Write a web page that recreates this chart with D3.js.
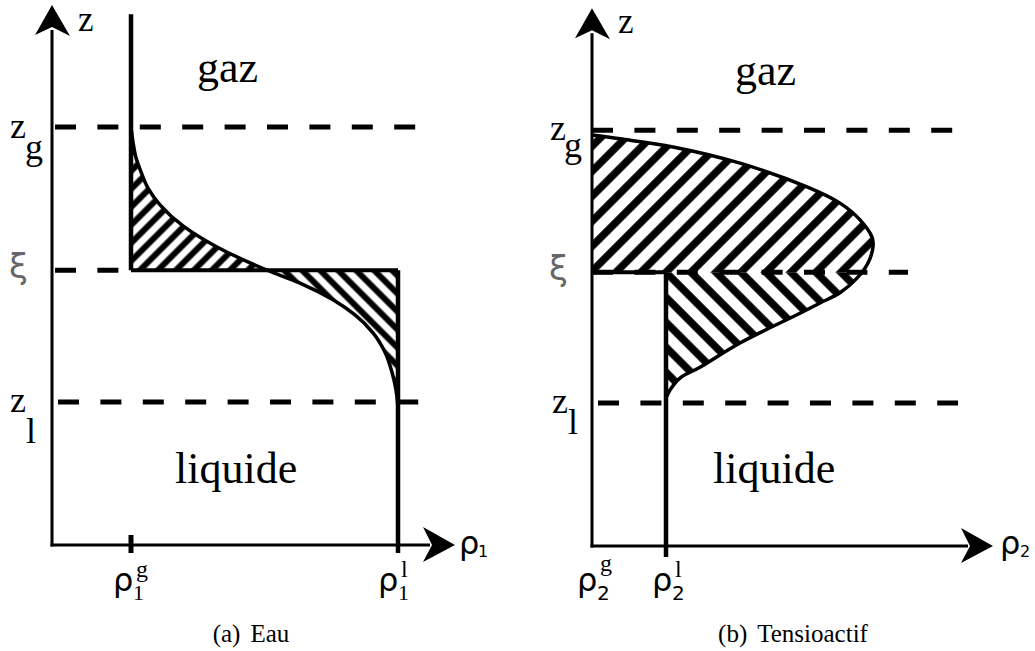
<!DOCTYPE html>
<html><head><meta charset="utf-8">
<script src="https://cdn.jsdelivr.net/npm/d3@7"></script>
<style>body{margin:0;background:#fff} svg{display:block}</style>
</head><body><svg id="c" width="1035" height="651"></svg>
<script>
// ---------------- data ----------------
const levelNames = ["z", "ξ", "z"];          // z_g, ξ, z_l
const levelSubs  = ["g", "", "l"];
const levelsA = [77.4, 50.9, 26.5];            // z_g, ξ, z_l  (panel a)
const levelsB = [77.0, 50.7, 26.5];            // z_g, ξ, z_l  (panel b)
const rhoGasA = 19.75, rhoLiqA = 86.5;
const rhoGasB = 0,     rhoLiqB = 18.5;
const profileA_rho = [19.75, 20.25, 21, 22.25, 24, 27, 32.75, 41.25, 53.75, 62, 70.25, 75.75, 80.25, 83.25, 85, 86, 86.5];
const profileA_z   = [77.4, 74.6, 71.7, 69.1, 66.1, 63.0, 59.1, 55.2, 50.9, 48.5, 45.4, 42.6, 39.3, 35.7, 32.0, 28.7, 25.4];
const profileB_rho = [0, 7, 20.25, 37, 53.75, 62, 67, 70, 70.25, 69, 66.25, 62, 57, 52, 37, 27, 22, 19.5, 18.5];
const profileB_z   = [76.1, 75.4, 73.9, 70.9, 66.5, 63.5, 60.4, 57.2, 55.4, 52.4, 49.6, 46.9, 45.0, 43.1, 37.6, 33.1, 31.1, 28.9, 27.4];
const phaseLabels = ["gaz", "liquide"];
const axisLabelsA = ["ρ", "1"];
const axisLabelsB = ["ρ", "2"];
const captionsA = ["(a)", "Eau"];
const captionsB = ["(b)", "Tensioactif"];

// ---------------- setup ----------------
const svg = d3.select("#c");
const defs = svg.append("defs");
const SERIF = "'Liberation Serif','Times New Roman',serif";
const SANS = "'DejaVu Sans',sans-serif";

function hatch(id, angle, d, s, x0, y0) {
  const w = d * Math.SQRT1_2;
  const p = defs.append("pattern").attr("id", id)
    .attr("patternUnits", "userSpaceOnUse")
    .attr("width", w).attr("height", w)
    .attr("patternTransform", `translate(${x0},${y0}) rotate(${angle})`);
  p.append("rect").attr("x", (w - s) / 2).attr("y", -1).attr("width", s).attr("height", w + 2).attr("fill", "#000");
}
function clip(id, y0, y1) {
  defs.append("clipPath").attr("id", id).append("rect")
    .attr("x", 0).attr("y", y0).attr("width", 1035).attr("height", y1 - y0);
}
function arrowUp(g, cx, tip) {
  g.append("path").attr("d", `M${cx},${tip} L${cx+18},${tip+31} L${cx},${tip+22} L${cx-17},${tip+30} Z`).attr("fill", "#000");
}
function arrowRight(g, tip, cy) {
  g.append("path").attr("d", `M${tip},${cy} L${tip-32},${cy-18} L${tip-23},${cy} L${tip-32},${cy+17} Z`).attr("fill", "#000");
}
function txt(g, x, y, s, size, font, fill) {
  return g.append("text").attr("x", x).attr("y", y).text(s)
    .attr("font-size", size).attr("font-family", font).attr("fill", fill || "#000");
}

function panel(cfg) {
  const g = svg.append("g");
  const x = d3.scaleLinear().domain([0, 100]).range(cfg.xRange);
  const z = d3.scaleLinear().domain([0, 100]).range(cfg.zRange);
  const [zg, xi, zl] = cfg.levels;
  const yXi = z(xi);
  const idx = d3.range(cfg.rho.length);

  hatch(cfg.id + "up", 45, cfg.hd, cfg.hs, cfg.hx0, yXi);
  hatch(cfg.id + "dn", -45, cfg.hd, cfg.hs, cfg.hx0, yXi);
  clip(cfg.id + "cu", 0, yXi);
  clip(cfg.id + "cd", yXi, 651);

  const curve = cfg.curve;
  const areaUp = d3.area().curve(curve).y(i => z(cfg.z[i])).x0(x(cfg.rhoG)).x1(i => x(cfg.rho[i]));
  const areaDn = d3.area().curve(curve).y(i => z(cfg.z[i])).x0(x(cfg.rhoL)).x1(i => x(cfg.rho[i]));
  g.append("path").attr("d", areaUp(idx)).attr("fill", `url(#${cfg.id}up)`).attr("clip-path", `url(#${cfg.id}cu)`);
  g.append("path").attr("d", areaDn(idx)).attr("fill", `url(#${cfg.id}dn)`).attr("clip-path", `url(#${cfg.id}cd)`);

  // dashed levels
  cfg.levels.forEach((lv, k) => {
    const [a, b] = cfg.dashExt[k];
    g.append("line").attr("x1", x(a)).attr("x2", x(b)).attr("y1", z(lv)).attr("y2", z(lv))
      .attr("stroke", "#000").attr("stroke-width", 5).attr("stroke-dasharray", "21,21.4");
  });

  // profile
  const line = d3.line().curve(curve).x(i => x(cfg.rho[i])).y(i => z(cfg.z[i]));
  g.append("path").attr("d", line(idx)).attr("fill", "none").attr("stroke", "#000").attr("stroke-width", 3.5);
  g.append("line").attr("x1", x(cfg.rhoG)).attr("x2", x(cfg.rhoL)).attr("y1", yXi).attr("y2", yXi)
    .attr("stroke", "#000").attr("stroke-width", 4);
  g.append("line").attr("x1", x(cfg.rhoL)).attr("x2", x(cfg.rhoL)).attr("y1", yXi).attr("y2", z(0) + cfg.tickBelow)
    .attr("stroke", "#000").attr("stroke-width", 4.5);
  if (cfg.gasTop !== null) {
    g.append("line").attr("x1", x(cfg.rhoG)).attr("x2", x(cfg.rhoG)).attr("y1", z(cfg.gasTop)).attr("y2", yXi)
      .attr("stroke", "#000").attr("stroke-width", 4.5);
    g.append("line").attr("x1", x(cfg.rhoG)).attr("x2", x(cfg.rhoG)).attr("y1", z(0) - 10).attr("y2", z(0) + 8)
      .attr("stroke", "#000").attr("stroke-width", 5);
  }

  // axes
  g.append("line").attr("x1", x(0)).attr("x2", x(0)).attr("y1", z(0) + 1.5).attr("y2", z(cfg.zEnd) + 25)
    .attr("stroke", "#000").attr("stroke-width", 3);
  arrowUp(g, x(0), z(cfg.zEnd));
  g.append("line").attr("x1", x(0) - 1.5).attr("x2", x(cfg.xEnd) - 25).attr("y1", z(0)).attr("y2", z(0))
    .attr("stroke", "#000").attr("stroke-width", 3);
  arrowRight(g, x(cfg.xEnd), z(0));

  // labels
  const L = cfg.lab;
  txt(g, L.z[0], L.z[1], "z", 35, SERIF);
  txt(g, L.zg[0], L.zg[1], levelNames[0], 36, SERIF);
  txt(g, L.zg[2], L.zg[3], levelSubs[0], 36, SERIF);
  txt(g, L.xi[0], L.xi[1], levelNames[1], 34, SANS, "#666");
  txt(g, L.zl[0], L.zl[1], levelNames[2], 36, SERIF);
  txt(g, L.zl[2], L.zl[3], levelSubs[2], 36, SERIF);
  txt(g, L.gaz[0], L.gaz[1], phaseLabels[0], 44, SERIF);
  txt(g, L.liq[0], L.liq[1], phaseLabels[1], 44, SERIF);
  txt(g, L.ax[0], L.ax[1], cfg.axis[0], 32, SANS);
  txt(g, L.ax[2], L.ax[3], cfg.axis[1], 16, SANS);
  // tick labels
  const subFont = cfg.subSans ? SANS : SERIF;
  const subSize = cfg.subSans ? 20 : 22;
  [[L.tg, "g"], [L.tl, "l"]].forEach(([p, sup]) => {
    txt(g, p[0], 591, "ρ", 32, SANS);
    txt(g, p[0] + 20, 600, cfg.axis[1], subSize, subFont);
    txt(g, p[0] + 23, p[1], sup, 24, SERIF);
  });
  // caption
  const cap = txt(g, L.cap[0], 642, "", 25, SERIF).attr("text-anchor", "middle");
  cap.append("tspan").text(cfg.caption[0]);
  cap.append("tspan").attr("dx", 10).text(cfg.caption[1]);
}

panel({
  id: "A", xRange: [52, 452], zRange: [545, 5], curve: d3.curveMonotoneY,
  levels: levelsA, rho: profileA_rho, z: profileA_z, rhoG: rhoGasA, rhoL: rhoLiqA,
  hd: 18, hs: 6, hx0: 131,
  dashExt: [[0.75, 92], [0.75, 19.75], [1.5, 92.25]],
  gasTop: 98.3, tickBelow: 8, zEnd: 100, xEnd: 100.75,
  axis: axisLabelsA, subSans: false, caption: captionsA,
  lab: { z: [78, 31], zg: [10, 138, 25, 159], xi: [9, 278], zl: [10, 412, 26, 443],
         gaz: [197, 82], liq: [175, 483], ax: [459, 554, 478, 557],
         tg: [113, 577], tl: [378, 577], cap: [251] }
});
panel({
  id: "B", xRange: [592, 992], zRange: [546, 6], curve: d3.curveCatmullRom.alpha(0.5),
  levels: levelsB, rho: profileB_rho, z: profileB_z, rhoG: rhoGasB, rhoL: rhoLiqB,
  hd: 25, hs: 7.5, hx0: 653.5,
  dashExt: [[0, 90.25], [0, 79], [1.5, 91.5]],
  gasTop: null, tickBelow: 11, zEnd: 99.6, xEnd: 100.25,
  axis: axisLabelsB, subSans: true, caption: captionsB,
  lab: { z: [618, 33], zg: [550, 140, 564, 157], xi: [549, 280], zl: [552, 413, 568, 434],
         gaz: [735, 85], liq: [713, 483], ax: [1000, 554, 1020, 557],
         tg: [577, 571], tl: [652, 577], cap: [793] }
});
</script></body></html>
